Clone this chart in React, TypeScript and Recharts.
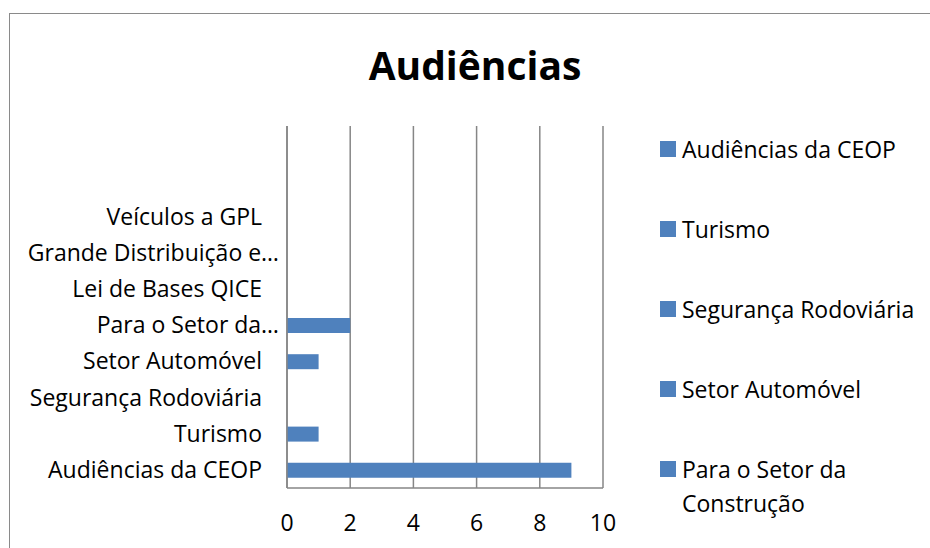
import React from 'react';
import { BarChart, Bar, XAxis, YAxis, CartesianGrid } from 'recharts';

// categories in Excel order (bottom to top); the two last ones are blank
const categories = [
  'Audiências da CEOP',
  'Turismo',
  'Segurança Rodoviária',
  'Setor Automóvel',
  'Para o Setor da…',
  'Lei de Bases QICE',
  'Grande Distribuição e…',
  'Veículos a GPL',
  ' ',
  '  ',
];
const values = [9, 1, 0, 1, 2, 0, 0, 0, 0, 0];
const xTicks = [0, 2, 4, 6, 8, 10];
const legendLabels = [
  'Audiências da CEOP',
  'Turismo',
  'Segurança Rodoviária',
  'Setor Automóvel',
  'Para o Setor da Construção',
];

const BLUE = '#4f81bd';
const GRID = '#868686';
const FONT = '"Open Sans", sans-serif';
const FS = 23;

const data = categories.map((name, i) => ({ name, value: values[i] }));

// Excel lets the truncated labels run a bit closer to the axis
const CategoryTick = (props: any) => {
  const { x, y, payload } = props;
  const label: string = payload.value;
  const shift = label.endsWith('…') ? 17 : 0;
  return (
    <text x={x + shift} y={y} dy="0.355em" textAnchor="end" fill="#000" fontSize={FS} fontFamily={FONT}>
      {label}
    </text>
  );
};

const App: React.FC = () => {
  return (
    <div style={{ position: 'absolute', left: 0, top: 0, width: 930, height: 548, overflow: 'hidden', background: '#fff', fontFamily: FONT }}>
      {/* chart frame, runs off the right and bottom edge */}
      <div style={{ position: 'absolute', left: 9, top: 13, width: 960, height: 600, border: '1px solid #8a8a8a' }} />

      <div style={{ position: 'absolute', left: 0, top: 38, width: 950, textAlign: 'center', fontSize: 39, fontWeight: 700, lineHeight: '54px', color: '#000' }}>
        Audiências
      </div>

      <div style={{ position: 'absolute', left: 0, top: 0 }}>
        <BarChart
          width={930}
          height={548}
          data={data}
          layout="vertical"
          margin={{ top: 126, right: 327, bottom: 30, left: 0 }}
        >
          <CartesianGrid horizontal={false} stroke={GRID} strokeWidth={1.5} />
          <XAxis
            type="number"
            domain={[0, 10]}
            ticks={xTicks}
            height={30}
            tickLine={false}
            tickMargin={21}
            axisLine={{ stroke: GRID, strokeWidth: 1.5 }}
            tick={{ fill: '#000', fontSize: FS, fontFamily: FONT }}
          />
          <YAxis
            type="category"
            dataKey="name"
            reversed
            width={287}
            interval={0}
            tickLine={false}
            tickMargin={19}
            axisLine={{ stroke: GRID, strokeWidth: 1.5 }}
            tick={CategoryTick}
          />
          <Bar dataKey="value" fill={BLUE} barSize={15} isAnimationActive={false} />
        </BarChart>
      </div>

      {legendLabels.map((label, i) => (
        <div
          key={label}
          style={{ position: 'absolute', left: 660, top: 149 + 80 * i - 17, display: 'flex', alignItems: 'flex-start' }}
        >
          <div style={{ width: 16, height: 16, background: BLUE, marginTop: 9, flexShrink: 0 }} />
          <div style={{ marginLeft: 6, width: 240, fontSize: FS, lineHeight: '34px', color: '#000' }}>{label}</div>
        </div>
      ))}
    </div>
  );
};

export default App;
